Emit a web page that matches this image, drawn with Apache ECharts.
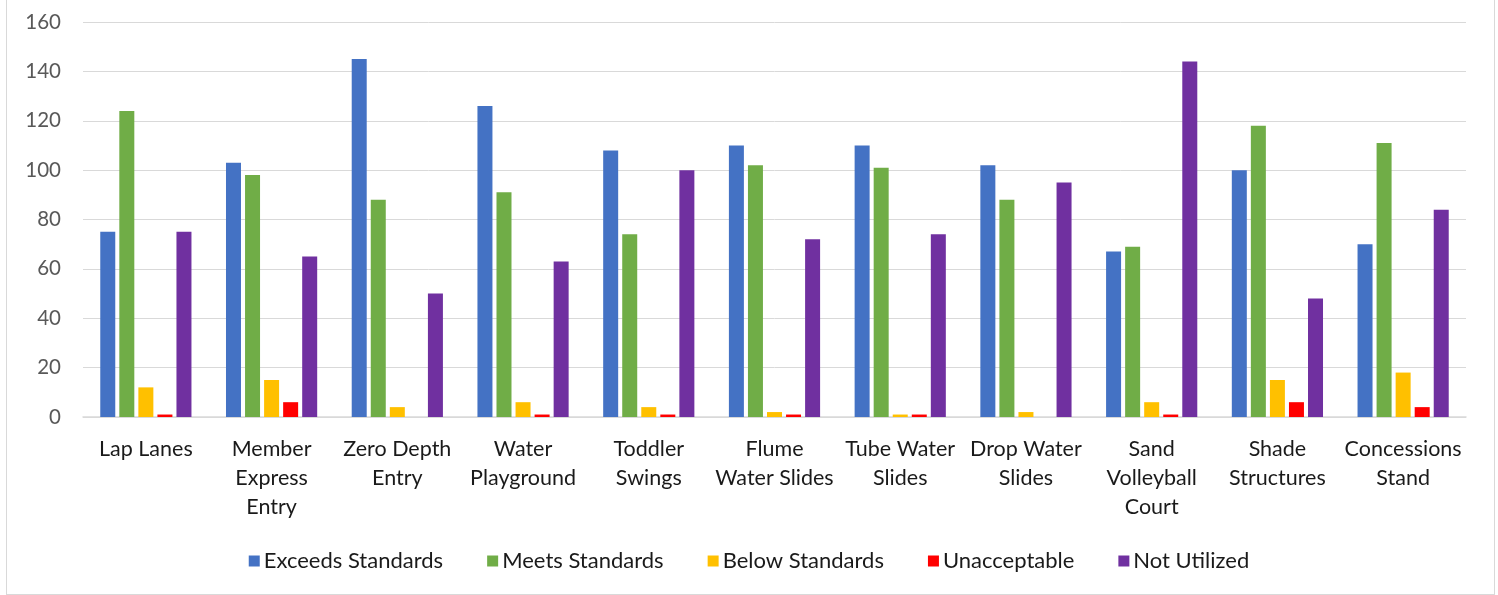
<!DOCTYPE html>
<html>
<head>
<meta charset="utf-8">
<script src="https://cdn.jsdelivr.net/npm/echarts@6/dist/echarts.min.js"></script>
<style>
  html, body { margin: 0; padding: 0; background: #ffffff; }
  #frame { position: absolute; left: 6px; top: -2px; width: 1489px; height: 597px; border: 1px solid #d9d9d9; box-sizing: border-box; }
  #chart { width: 1498px; height: 595px; }
</style>
</head>
<body>
<div id="frame"></div>
<div id="chart"></div>
<script>
// Amenity names (line breaks as shown under the axis)
const categories = [
  'Lap Lanes',
  'Member\nExpress\nEntry',
  'Zero Depth\nEntry',
  'Water\nPlayground',
  'Toddler\nSwings',
  'Flume\nWater Slides',
  'Tube Water\nSlides',
  'Drop Water\nSlides',
  'Sand\nVolleyball\nCourt',
  'Shade\nStructures',
  'Concessions\nStand'
];

// Rating counts per amenity
const exceedsStandards = [75, 103, 145, 126, 108, 110, 110, 102, 67, 100, 70];
const meetsStandards   = [124, 98, 88, 91, 74, 102, 101, 88, 69, 118, 111];
const belowStandards   = [12, 15, 4, 6, 4, 2, 1, 2, 6, 15, 18];
const unacceptable     = [1, 6, 0, 1, 1, 1, 1, 0, 1, 6, 4];
const notUtilized      = [75, 65, 50, 63, 100, 72, 74, 95, 144, 48, 84];

const yTicks = { min: 0, max: 160, interval: 20 };

const seriesDefs = [
  { name: 'Exceeds Standards', data: exceedsStandards, color: '#4472C4' },
  { name: 'Meets Standards',   data: meetsStandards,   color: '#70AD47' },
  { name: 'Below Standards',   data: belowStandards,   color: '#FFC000' },
  { name: 'Unacceptable',      data: unacceptable,     color: '#FF0000' },
  { name: 'Not Utilized',      data: notUtilized,      color: '#7030A0' }
];

const FONT = 'Lato, "Open Sans", sans-serif';

const chart = echarts.init(document.getElementById('chart'), null, { renderer: 'canvas' });
chart.setOption({
  animation: false,
  textStyle: { fontFamily: FONT },
  grid: { left: 83, right: 32, top: 22, bottom: 178, containLabel: false },
  legend: {
    bottom: 18,
    left: 'center',
    itemWidth: 11,
    itemHeight: 11,
    itemGap: 44,
    icon: 'rect',
    textStyle: { fontSize: 22, color: '#1a1a1a', fontFamily: FONT, padding: [0, 0, 0, -1] },
    data: seriesDefs.map(s => s.name)
  },
  xAxis: {
    type: 'category',
    data: categories,
    axisLine: { lineStyle: { color: '#d9d9d9', width: 1.5 } },
    axisTick: { show: false },
    axisLabel: {
      interval: 0,
      margin: 18,
      fontSize: 21.5,
      lineHeight: 29,
      color: '#1a1a1a',
      fontFamily: FONT
    }
  },
  yAxis: {
    type: 'value',
    min: yTicks.min,
    max: yTicks.max,
    interval: yTicks.interval,
    axisLine: { show: false },
    axisTick: { show: false },
    splitLine: { lineStyle: { color: '#d9d9d9', width: 1 } },
    axisLabel: { fontSize: 20.5, color: '#595959', margin: 22, fontFamily: FONT }
  },
  series: seriesDefs.map(s => ({
    name: s.name,
    type: 'bar',
    data: s.data,
    barWidth: 15,
    barGap: '27%',
    itemStyle: { color: s.color }
  }))
});
</script>
</body>
</html>
